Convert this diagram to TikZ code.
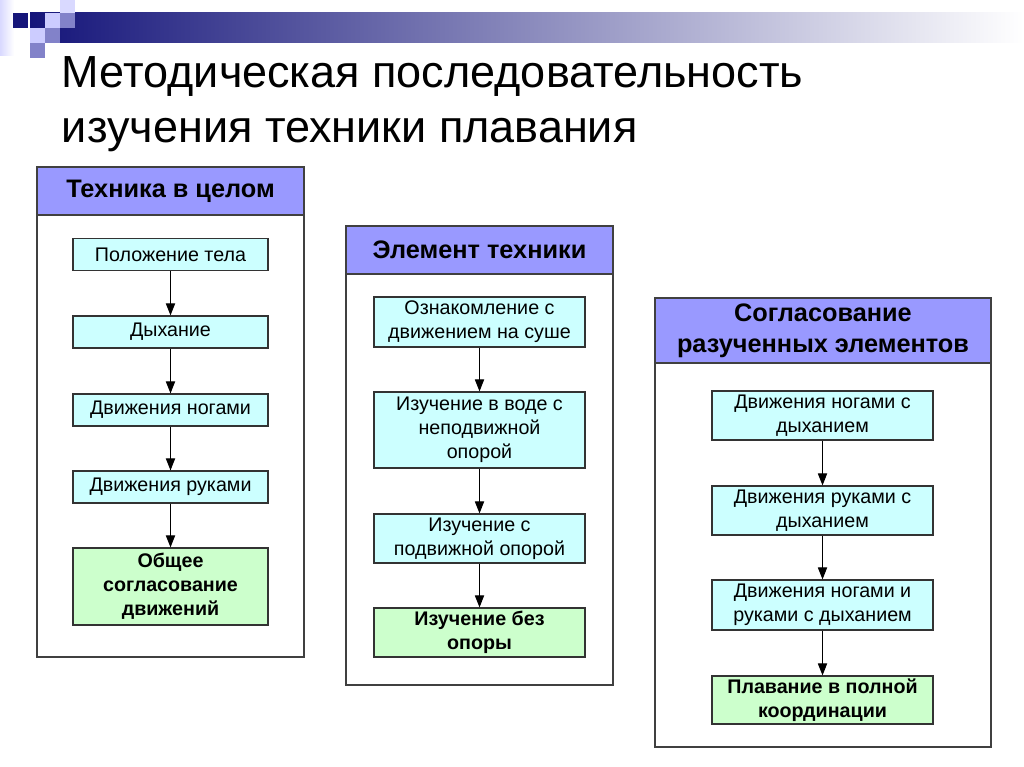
\documentclass[tikz,border=0pt]{standalone}
\usepackage{fontspec}
\setmainfont{Liberation Sans}
\usetikzlibrary{arrows.meta}

\definecolor{headblue}{HTML}{9999FF}
\definecolor{stepcyan}{HTML}{CCFFFF}
\definecolor{stepgreen}{HTML}{CCFFCC}
\definecolor{barnavy}{HTML}{15157A}

\begin{document}
\begin{tikzpicture}[x=0.025cm,y=-0.025cm,
    frame/.style={draw=black!75,line width=1pt,fill=white,inner sep=0pt},
    head/.style={draw=black!75,line width=1pt,fill=headblue,inner sep=0pt,
      align=center,font=\fontsize{18}{22}\selectfont\bfseries},
    stepbox/.style={draw=black!80,line width=0.8pt,fill=stepcyan,inner sep=0pt,
      align=center,font=\fontsize{14}{17}\selectfont},
    lastbox/.style={stepbox,fill=stepgreen,font=\fontsize{14}{17}\selectfont\bfseries},
    flow/.style={-{Triangle[length=3mm,width=2.3mm]},line width=0.8pt}]
      \useasboundingbox (0,0) rectangle (1024,767);
      % Top bar and squares
      \shade[left color=barnavy,right color=white] (30,13) rectangle (1024,43);
      \fill[left color=blue!15!white,right color=white] (0,0) rectangle (14,56);
      \fill[barnavy] (13,13) rectangle (28,28);
      \fill[blue!20!white] (45,13) rectangle (60,28);
      \fill[blue!40!gray!70!white] (60,13) rectangle (75,28);
      \fill[blue!15!white] (60,0) rectangle (75,13);
      \fill[blue!20!white] (30,28) rectangle (45,43);
      \fill[blue!40!gray!70!white] (45,28) rectangle (60,43);
      \fill[blue!40!gray!70!white] (30,43) rectangle (45,58);
      % Title
      \node[anchor=base west,font=\fontsize{32}{38}\selectfont] (title1) at (57,88)
        {Методическая последовательность};
      \node[anchor=base west,font=\fontsize{32}{38}\selectfont] (title2) at (57,143)
        {изучения техники плавания};
      % Column 1
      \node[frame,minimum width=6.675cm,minimum height=12.25cm] (col1) at (170.5,412) {};
      \node[head,minimum width=6.675cm,minimum height=1.2cm,anchor=north] (head1) at (col1.north) {Техника в целом};
      \node[stepbox,minimum width=4.875cm,minimum height=0.8cm] (a1) at (170.5,254.5) {Положение тела};
      \node[stepbox,minimum width=4.875cm,minimum height=0.8cm] (a2) at (170.5,332) {Дыхание};
      \node[stepbox,minimum width=4.875cm,minimum height=0.8cm] (a3) at (170.5,410) {Движения ногами};
      \node[stepbox,minimum width=4.875cm,minimum height=0.8cm] (a4) at (170.5,487) {Движения руками};
      \node[lastbox,minimum width=4.875cm,minimum height=1.925cm] (a5) at (170.5,586.5) {Общее\\согласование\\движений};
      \foreach \i/\j in {a1/a2,a2/a3,a3/a4,a4/a5}
        \draw[flow] (\i.south) -- (\j.north);
      % Column 2
      \node[frame,minimum width=6.675cm,minimum height=11.475cm] (col2) at (479.5,455.5) {};
      \node[head,minimum width=6.675cm,minimum height=1.2cm,anchor=north] (head2) at (col2.north) {Элемент техники};
      \node[stepbox,minimum width=5.275cm,minimum height=1.25cm] (b1) at (479.5,322) {Ознакомление с\\движением на суше};
      \node[stepbox,minimum width=5.275cm,minimum height=1.9cm] (b2) at (479.5,430) {Изучение в воде с\\неподвижной\\опорой};
      \node[stepbox,minimum width=5.275cm,minimum height=1.225cm] (b3) at (479.5,538.5) {Изучение с\\подвижной опорой};
      \node[lastbox,minimum width=5.275cm,minimum height=1.225cm] (b4) at (479.5,632.5) {Изучение без\\опоры};
      \foreach \i/\j in {b1/b2,b2/b3,b3/b4}
        \draw[flow] (\i.south) -- (\j.north);
      % Column 3
      \node[frame,minimum width=8.4cm,minimum height=11.225cm] (col3) at (823,522.5) {};
      \node[head,minimum width=8.4cm,minimum height=1.625cm,anchor=north] (head3) at (col3.north) {Согласование\\разученных элементов};
      \node[stepbox,minimum width=5.525cm,minimum height=1.225cm] (c1) at (822.5,415.5) {Движения ногами с\\дыханием};
      \node[stepbox,minimum width=5.525cm,minimum height=1.225cm] (c2) at (822.5,510.5) {Движения руками с\\дыханием};
      \node[stepbox,minimum width=5.525cm,minimum height=1.25cm] (c3) at (822.5,605) {Движения ногами и\\руками с дыханием};
      \node[lastbox,minimum width=5.525cm,minimum height=1.2cm] (c4) at (822.5,700) {Плавание в полной\\координации};
      \foreach \i/\j in {c1/c2,c2/c3,c3/c4}
        \draw[flow] (\i.south) -- (\j.north);
    \end{tikzpicture}
\end{document}
